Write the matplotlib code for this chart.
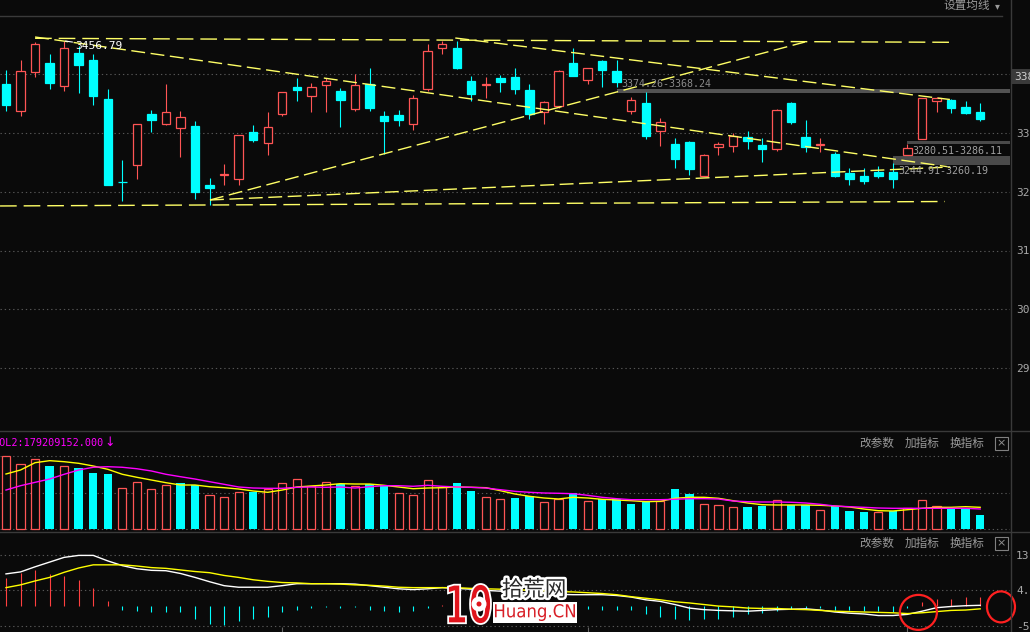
import numpy as np
import matplotlib.pyplot as plt
from matplotlib.patches import Rectangle, Ellipse, PathPatch
from matplotlib.lines import Line2D
from matplotlib.textpath import TextPath
from matplotlib.font_manager import FontProperties
from matplotlib.transforms import Affine2D, blended_transform_factory
import matplotlib.patheffects as pe

# ---- daily candles ----
opens = [3383, 3338, 3404, 3420, 3380, 3437, 3424, 3358, 3217, 3245,
         3332, 3316, 3308, 3312, 3212, 3228, 3222, 3302, 3283, 3333,
         3378, 3363, 3382, 3372, 3341, 3383, 3329, 3331, 3316, 3375,
         3444, 3445, 3388, 3381, 3393, 3395, 3373, 3335, 3346, 3419,
         3391, 3422, 3405, 3337, 3351, 3303, 3282, 3285, 3226, 3277,
         3278, 3294, 3280, 3272, 3351, 3293, 3280, 3264, 3232, 3227,
         3234, 3234, 3263, 3289, 3354, 3356, 3344, 3336]
highs = [3408, 3424, 3455, 3434, 3456.79, 3448, 3434, 3375, 3254, 3315,
         3339, 3383, 3337, 3320, 3224, 3247, 3296, 3314, 3336, 3369,
         3393, 3385, 3394, 3376, 3401, 3410, 3337, 3339, 3364, 3452,
         3456, 3456, 3397, 3395, 3398, 3410, 3384, 3355, 3407, 3444,
         3411, 3424, 3425, 3361, 3370, 3325, 3291, 3286, 3264, 3284,
         3300, 3303, 3291, 3341, 3352, 3322, 3291, 3268, 3241, 3241,
         3244, 3249, 3282, 3360, 3362, 3358, 3355, 3351]
lows = [3338, 3329, 3395, 3375, 3371, 3368, 3347, 3212, 3184, 3222,
        3302, 3314, 3260, 3188, 3178, 3211, 3212, 3285, 3263, 3329,
        3355, 3336, 3336, 3311, 3338, 3338, 3264, 3312, 3305, 3371,
        3434, 3409, 3355, 3360, 3370, 3367, 3323, 3316, 3342, 3397,
        3384, 3378, 3378, 3332, 3289, 3278, 3241, 3229, 3226, 3263,
        3267, 3273, 3251, 3270, 3316, 3268, 3267, 3225, 3211, 3213,
        3224, 3206, 3263, 3289, 3336, 3334, 3333, 3321]
closes = [3347, 3405, 3452, 3385, 3444, 3416, 3363, 3212, 3216, 3315,
          3322, 3335, 3327, 3199, 3207, 3230, 3296, 3288, 3311, 3369,
          3373, 3379, 3388, 3357, 3381, 3343, 3320, 3322, 3360, 3440,
          3452, 3411, 3367, 3383, 3387, 3375, 3333, 3352, 3405, 3397,
          3411, 3407, 3387, 3357, 3295, 3318, 3256, 3238, 3262, 3281,
          3295, 3287, 3273, 3339, 3319, 3276, 3282, 3226, 3222, 3219,
          3226, 3221, 3275, 3359, 3360, 3343, 3334, 3324]

# ---- volume (chart units) ----
volume = [200.5, 178.7, 190.7, 172.5, 171.7, 166.2, 152.6, 150.7, 111.7, 128,
          109, 119.9, 126.2, 120.7, 92.6, 87.2, 100.8, 102.5, 109, 125.3,
          136.2, 118, 128, 123.4, 118, 122.6, 120.7, 98.1, 92.6, 133.5,
          116, 126.2, 104.4, 87.2, 81.7, 85.3, 90.7, 73.6, 81.7, 98.9,
          76.3, 82.6, 82.6, 68.9, 77.1, 76.3, 109.8, 96.2, 68.9, 66.2,
          60.8, 61.6, 63.5, 79, 66.2, 66.2, 52.6, 63.5, 49.9, 48,
          47.1, 49.9, 57.2, 79, 63.5, 57.2, 57.2, 39.8]
volume_up = [1, 1, 1, 0, 1, 0, 0, 0, 1, 1,
             1, 1, 0, 0, 1, 1, 1, 0, 1, 1,
             1, 1, 1, 0, 1, 0, 0, 1, 1, 1,
             1, 0, 0, 1, 1, 0, 0, 1, 1, 0,
             1, 0, 0, 0, 0, 1, 0, 0, 1, 1,
             1, 0, 0, 1, 0, 0, 1, 0, 0, 0,
             1, 0, 1, 1, 1, 0, 0, 0]
vol_ma_short = [150.7, 161.6, 181.5, 187, 184.2, 179.8, 172.5, 163.5, 149.9, 141.7,
                134.3, 127, 120.7, 120.7, 116, 113.4, 109.8, 104.4, 100.8, 107,
                115.3, 118, 120.7, 124.3, 123.4, 123.4, 119.9, 115.3, 110.6, 112.5,
                113.4, 115.3, 114.4, 113.4, 105.2, 96.2, 89.9, 85.3, 82.6, 87.2,
                85.3, 81.7, 79.8, 77.9, 75.2, 76.3, 84.5, 87.2, 87.2, 84.5,
                77.9, 71.7, 67, 66.2, 66.2, 66.2, 65.4, 63.5, 60.8, 55.3,
                50.7, 49.9, 53.4, 57.2, 59.9, 59.9, 61.6, 59.9]
vol_ma_long = [107, 118.8, 128, 137, 149.9, 161.6, 169, 170.6, 169, 165,
               158.9, 149.9, 143.3, 137, 129.7, 122.6, 115.3, 112.5, 111.7, 111.7,
               114.4, 115.3, 114.4, 115.3, 112.5, 116, 118.8, 118.8, 117.2, 119.9,
               117.2, 115.3, 114.4, 112.5, 107.9, 103.5, 100.8, 98.9, 98.1, 97,
               92.6, 87.2, 83.4, 80.7, 80.7, 80.7, 81.7, 83.4, 83.4, 82.6,
               77.1, 75.2, 74.4, 74.4, 73.6, 71.7, 68.1, 63.5, 61.6, 59.9,
               58, 57.2, 57.2, 57.2, 57.2, 57.2, 57.2, 55.3]

# ---- MACD ----
dif = [8.2, 8.7, 10.0, 11.2, 12.4, 12.9, 12.9, 11.5, 10.3, 9.5,
       9.1, 9.0, 8.3, 7.3, 6.2, 5.2, 4.8, 4.8, 4.8, 5.2,
       5.7, 5.7, 5.7, 5.7, 5.6, 5.2, 4.8, 4.4, 4.2, 4.4,
       4.7, 4.5, 4.3, 4.0, 3.8, 3.5, 3.3, 3.2, 3.0, 2.9,
       2.9, 2.9, 2.7, 2.3, 1.6, 1.2, 0.4, -0.5, -0.9, -1.1,
       -1.2, -1.3, -1.1, -0.9, -0.8, -0.7, -1.0, -1.5, -1.8, -2.0,
       -2.4, -2.4, -2.1, -1.3, -0.4, -0.1, 0.1, 0.2]
dea = [4.7, 5.4, 6.4, 7.3, 8.6, 9.7, 10.5, 10.5, 10.5, 10.2,
       9.8, 9.6, 9.2, 8.8, 8.5, 7.8, 7.3, 6.7, 6.3, 6.0,
       5.9, 5.7, 5.7, 5.6, 5.4, 5.3, 5.1, 4.8, 4.7, 4.7,
       4.7, 4.7, 4.5, 4.4, 4.3, 4.2, 4.0, 3.9, 3.7, 3.6,
       3.4, 3.2, 2.9, 2.4, 2.0, 1.6, 1.1, 0.8, 0.4, 0.0,
       -0.2, -0.5, -0.6, -0.6, -0.8, -0.9, -1.1, -1.3, -1.4, -1.5,
       -1.6, -1.7, -1.9, -1.7, -1.4, -1.1, -1.0, -0.7]
macd_hist = [7.1, 8.4, 9.2, 8.1, 7.7, 6.7, 4.6, 1.2, -0.9, -1.3,
             -1.6, -1.6, -1.6, -3.4, -4.5, -4.9, -3.8, -3.2, -2.7, -1.6,
             -0.9, -0.6, -0.3, -0.6, -0.2, -0.9, -1.3, -1.4, -1.3, -0.6,
             0.2, -0.3, -0.4, -0.8, -1.0, -1.4, -1.4, -1.4, -1.4, -1.4,
             -0.7, -0.9, -0.9, -1.1, -2.1, -2.7, -3.2, -3.6, -3.4, -3.2,
             -2.7, -2.1, -1.7, -1.3, -0.7, -0.5, -0.5, -0.9, -1.1, -1.3,
             -1.3, -1.6, -0.5, 1.0, 1.9, 1.9, 2.2, 2.2]

# ---- drawn trend lines (bar index, price) ----
trend_x0 = [2.0, -0.41, 2.0, 30.9, 14.03, 14.03]
trend_p0 = [3461.2, 3175.8, 3463.4, 3461.7, 3186.0, 3186.0]
trend_x1 = [64.92, 64.58, 64.92, 64.92, 54.95, 64.92]
trend_p1 = [3454.4, 3183.4, 3242.1, 3357.0, 3454.9, 3242.1]

# ---- price gaps ----
gap_start = [42, 62, 61]
gap_low = [3368.24, 3280.51, 3244.91]
gap_high = [3374.26, 3286.11, 3260.19]
gap_labels = ["3374.26-3368.24", "3280.51-3286.11", "3244.91-3260.19"]

price_ticks = [2900, 3000, 3100, 3200, 3300, 3400]
macd_ticks = [13, 4, -5]
macd_tick_labels = ["13.00", "4.00", "-5.00"]
month_ticks = [19, 40, 62]

W, H = 1030, 632
BG = "#0a0a0a"
RED = "#ff5555"
CYAN = "#00ffff"
GRID = "#575757"
TXT = "#9a9a9a"
LINE = "#3a3a3a"
MONO = "DejaVu Sans Mono"
CJK = "Noto Sans CJK SC"
STEP = 14.54

plt.rcParams["font.family"] = ["DejaVu Sans", "Noto Sans CJK SC"]

fig = plt.figure(figsize=(W / 100, H / 100), dpi=100, facecolor=BG)


def fx(x):
    return x / W


def fy(y):
    return 1 - y / H


def panel(top, bottom):
    a = fig.add_axes([0, fy(bottom), 1010 / W, (bottom - top) / H])
    a.set_facecolor(BG)
    for s in a.spines.values():
        s.set_visible(False)
    a.set_xlim(-6 / STEP, 1004 / STEP)
    a.set_xticks([])
    a.yaxis.tick_right()
    a.tick_params(axis="y", length=0, pad=4.3, labelsize=8, labelcolor="#a8a8a8")
    a.set_axisbelow(True)
    return a


dotted = (0, (1.2, 2.6))
n = len(closes)
idx = np.arange(n)

# ================= price panel =================
ax = panel(17, 431)
ax.set_ylim(3300 - 298 / 0.5875, 3300 + 116 / 0.5875)
ax.set_yticks(price_ticks)
ax.set_yticklabels([str(t) if t != 3400 else "" for t in price_ticks], family=MONO)
ax.grid(axis="y", color=GRID, ls=dotted, lw=0.8)

for k in range(len(gap_start)):
    ax.fill_between([gap_start[k], 1004 / STEP], gap_low[k], gap_high[k],
                    color="#525252" if k == 0 else "#4a4a4a", lw=0, zorder=1)

for i in idx:
    o, h, l, c = opens[i], highs[i], lows[i], closes[i]
    up = c > o
    col = RED if up else CYAN
    lo_b, hi_b = min(o, c), max(o, c)
    ax.vlines(i, l, lo_b, color=col, lw=0.8, zorder=2)
    ax.vlines(i, hi_b, h, color=col, lw=0.8, zorder=2)
    ax.add_patch(Rectangle((i - 0.29, lo_b), 0.58, max(hi_b - lo_b, 0.8),
                           facecolor=BG if up else col, edgecolor=col, lw=0.9, zorder=2))

for k in range(len(trend_x0)):
    ls = (0, (12, 5)) if k < 2 else (0, (10, 4))
    ax.plot([trend_x0[k], trend_x1[k]], [trend_p0[k], trend_p1[k]],
            color="#ffff66", lw=1.0, ls=ls, zorder=3)

ax.text(gap_start[0] + 0.35, gap_high[0], gap_labels[0], color="#8a8a8a",
        family=MONO, fontsize=7.2, ha="left", va="bottom", zorder=4)
ax.annotate(gap_labels[1], (gap_start[1] + 0.35, gap_low[1]), xytext=(0, -1),
            textcoords="offset points", color="#a0a0a0", family=MONO,
            fontsize=7.2, ha="left", va="top", zorder=4)
ax.annotate(gap_labels[2], (gap_start[2] + 0.35, gap_low[2]), xytext=(0, -0.5),
            textcoords="offset points", color="#a0a0a0", family=MONO,
            fontsize=7.2, ha="left", va="top", zorder=4)

top_i = int(np.argmax(highs))
ax.annotate(f"{highs[top_i]:.2f}", (top_i, highs[top_i]), xytext=(8, -3.5),
            textcoords="offset points", color="white", family=MONO, fontsize=8,
            ha="left", va="center", zorder=5,
            arrowprops=dict(arrowstyle="-", color="white", lw=0.8, shrinkA=0, shrinkB=1))

ax.text(1.004, 3396, "3380", transform=blended_transform_factory(ax.transAxes, ax.transData),
        color="#d0d0d0", family=MONO, fontsize=8, ha="left", va="center", clip_on=False,
        bbox=dict(boxstyle="square,pad=0.2", fc="#3a3a3a", ec="none"))

# ================= volume panel =================
axv = panel(431, 532)
axv.set_ylim((529.3 - 532) / 0.367, (529.3 - 431) / 0.367)
axv.set_yticks([0, 100, 200])
axv.set_yticklabels(["", "", ""])
axv.grid(axis="y", color=GRID, ls=dotted, lw=0.8)
for i in idx:
    if volume_up[i]:
        axv.add_patch(Rectangle((i - 0.28, 0), 0.56, volume[i], facecolor=BG,
                                edgecolor=RED, lw=0.9, zorder=2))
    else:
        axv.add_patch(Rectangle((i - 0.29, 0), 0.58, volume[i], facecolor=CYAN,
                                edgecolor="none", zorder=2))
axv.plot(idx, vol_ma_short, color="#ffff00", lw=1.0, zorder=3)
axv.plot(idx, vol_ma_long, color="#ff00ff", lw=1.0, zorder=3)

# ================= MACD panel =================
axm = panel(532, 632)
axm.set_ylim((606.1 - 632) / 3.93, (606.1 - 532) / 3.93)
axm.set_yticks(macd_ticks)
axm.set_yticklabels(macd_tick_labels, family=MONO)
axm.grid(axis="y", color=GRID, ls=dotted, lw=0.8)
axm.vlines(idx, 0, macd_hist, colors=[("#ff4040" if v > 0 else CYAN) for v in macd_hist],
           lw=0.8, zorder=2)
axm.plot(idx, dif, color="white", lw=1.0, zorder=3)
axm.plot(idx, dea, color="#ffff00", lw=1.0, zorder=3)
axm.vlines(month_ticks, 0, 5 / 100, transform=blended_transform_factory(axm.transData, axm.transAxes),
           color="#666666", lw=0.8)

# circles around the latest crossing
axm.add_patch(Ellipse((62.75, -1.6), 37 / STEP, 35 / 3.93, fill=False, ec="#ff2020",
                      lw=1.6, clip_on=False, zorder=6))
axm.add_patch(Ellipse((68.43, -0.2), 28 / STEP, 31 / 3.93, fill=False, ec="#ff2020",
                      lw=1.6, clip_on=False, zorder=6))

# ================= frame, headers =================
for yy in (431, 532):
    fig.add_artist(Line2D([0, 1], [fy(yy), fy(yy)], color=LINE, lw=1.0, transform=fig.transFigure))
fig.add_artist(Line2D([0, fx(1002)], [fy(16), fy(16)], color=LINE, lw=1.0, transform=fig.transFigure))
fig.add_artist(Line2D([fx(1010.5), fx(1010.5)], [0, 1], color=LINE, lw=1.0, transform=fig.transFigure))

fig.text(fx(943), fy(5), "设置均线", family=CJK, fontsize=8.4, color=TXT, ha="left", va="center")
fig.text(fx(997), fy(6), "▾", family="DejaVu Sans", fontsize=7, color=TXT, ha="center", va="center")

fig.text(fx(-6), fy(442.5), "VOL2:179209152.000", family=MONO, fontsize=7.3,
         color="#ff00ff", ha="left", va="center")
fig.text(fx(110), fy(442.5), "↓", family="DejaVu Sans", fontsize=9, color="#ff00ff",
         ha="center", va="center")

for yc in (443.3, 543.3):
    for xc, s in ((877, "改参数"), (922, "加指标"), (967, "换指标")):
        fig.text(fx(xc), fy(yc), s, family=CJK, fontsize=8.4, color=TXT, ha="center", va="center")
    fig.add_artist(Rectangle((fx(994.5), fy(yc + 6.5)), 13 / W, 13 / H, fill=False,
                             ec="#808080", lw=0.8, transform=fig.transFigure))
    fig.text(fx(1001), fy(yc), "×", family="DejaVu Sans", fontsize=8, color="#909090",
             ha="center", va="center")


# ================= watermark =================
def path_text(s, x0, y0, x1, y1, fc, ec, lw, weight="bold"):
    tp = TextPath((0, 0), s, size=40, prop=FontProperties(family="DejaVu Sans", weight=weight))
    e = tp.get_extents()
    tr = (Affine2D().translate(-e.x0, -e.y0)
          .scale((x1 - x0) / e.width / W, (y1 - y0) / e.height / H)
          .translate(fx(x0), fy(y1)) + fig.transFigure)
    fig.add_artist(PathPatch(tp, facecolor=fc, edgecolor=ec, lw=lw, transform=tr, zorder=10))


path_text("10", 448, 584, 491, 624, "#e0141c", "white", 1.3)
fig.add_artist(Ellipse((fx(479), fy(604)), 15 / W, 15 / H, fc="white", ec="none",
                       transform=fig.transFigure, zorder=11))
fig.add_artist(Ellipse((fx(479), fy(604)), 5 / W, 5 / H, fc="#e0141c", ec="none",
                       transform=fig.transFigure, zorder=12))
fig.text(fx(534), fy(590), "拾荒网", family=CJK, fontsize=15.5, color="#2a2a2a",
         ha="center", va="center", zorder=11,
         path_effects=[pe.withStroke(linewidth=3.5, foreground="white")])
fig.add_artist(Rectangle((fx(493), fy(623)), 84 / W, 21 / H, fc="white", ec="none",
                         transform=fig.transFigure, zorder=10))
path_text("Huang.CN", 495, 604, 575, 621, "#d81e26", "none", 0, weight="normal")

fig.savefig("out.png", dpi=100, facecolor=BG)
